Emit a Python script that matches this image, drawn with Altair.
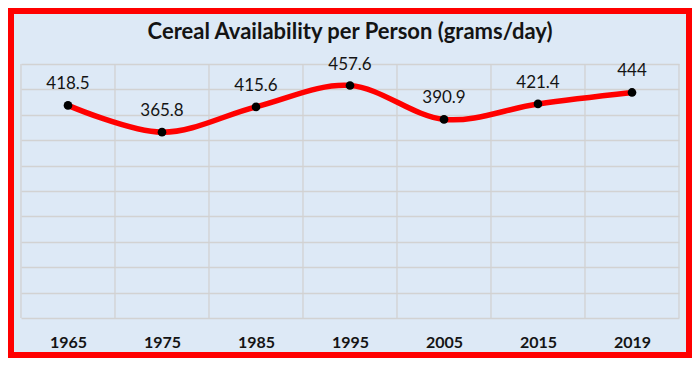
import altair as alt
import pandas as pd

years = ["1965", "1975", "1985", "1995", "2005", "2015", "2019"]
values = [418.5, 365.8, 415.6, 457.6, 390.9, 421.4, 444]
title_text = "Cereal Availability per Person (grams/day)"

df = pd.DataFrame({"idx": list(range(len(years))), "year": years, "value": values})

n = len(years)
W, H = 658, 254
FONT = "Lato"
TXT = "#141414"
GRID = "#d2d2d2"

label_expr = "[" + ",".join("'" + y + "'" for y in years) + "][datum.value]"

xscale = alt.Scale(domain=[-0.5, n - 0.5], nice=False, zero=False)
x_axis = alt.Axis(
    values=list(range(n)),
    grid=False, ticks=False, domain=False, title=None,
    labelExpr=label_expr, labelFlush=False, labelBound=False,
    labelOverlap=False, labelFont=FONT, labelFontSize=16, labelFontWeight="bold",
    labelColor=TXT, labelPadding=16,
)

x_enc = alt.X("idx:Q", scale=xscale, axis=x_axis)
y_enc = alt.Y(
    "value:Q",
    scale=alt.Scale(domain=[0, 500], nice=False),
    axis=alt.Axis(values=list(range(0, 501, 50)), grid=True, gridColor=GRID, gridWidth=1.3,
                  labels=False, ticks=False, domain=False, title=None),
)

vgrid = alt.Chart(pd.DataFrame({"idx": [i - 0.5 for i in range(n + 1)]})).mark_rule(
    color=GRID, strokeWidth=1.3
).encode(x=x_enc)

base = alt.Chart(df).encode(x=x_enc, y=y_enc)

line = base.mark_line(color="#ff0000", strokeWidth=5.5, interpolate="cardinal", strokeCap="round")
pts = base.mark_point(filled=True, color="#000000", size=75, opacity=1)
lbl = base.mark_text(font=FONT, fontSize=17, color=TXT, baseline="alphabetic", dy=-16).encode(
    text=alt.Text("value:Q", format=".1~f")
)

one = alt.Data(values=[{"t": title_text}])
title = alt.Chart(one).mark_text(
    font=FONT, fontSize=22, fontWeight="bold", color=TXT, baseline="alphabetic", align="center"
).encode(text="t:N", x=alt.value(W / 2), y=alt.value(-25))

border = alt.Chart(one).mark_rect(
    fill=None, stroke="#ff0000", strokeWidth=6
).encode(
    x=alt.value(-13 + 3), x2=alt.value(W + 13 - 3),
    y=alt.value(-56 + 3), y2=alt.value(H + 40 - 3),
)

chart = alt.layer(vgrid, line, pts, lbl, title, border).properties(
    width=W, height=H,
    background="#dde9f6",
    padding={"left": 13, "right": 13, "top": 56, "bottom": 40},
    autosize=alt.AutoSizeParams(type="none"),
).configure_view(stroke=None)

chart.save("out.html", embed_options={"renderer": "svg", "actions": False})
